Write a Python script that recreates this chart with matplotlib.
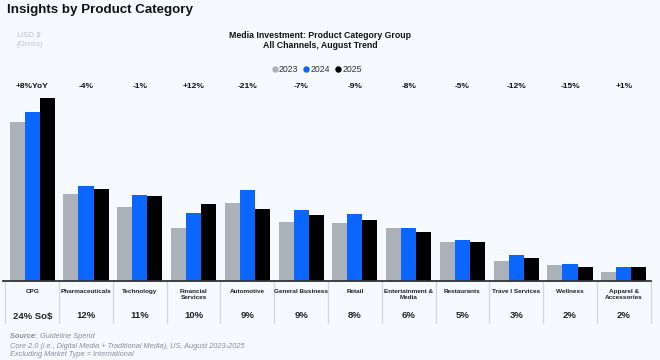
import matplotlib
matplotlib.use("Agg")
import matplotlib.pyplot as plt
from matplotlib.lines import Line2D
import numpy as np

plt.rcParams['font.family'] = ['Liberation Sans', 'DejaVu Sans']

categories = ["CPG", "Pharmaceuticals", "Technology", "Financial\nServices", "Automotive",
              "General Business", "Retail", "Entertainment &\nMedia", "Restaurants",
              "Trave l Services", "Wellness", "Apparel &\nAccessories"]
yoy_labels = ["+8%YoY", "-4%", "-1%", "+12%", "-21%", "-7%", "-9%", "-8%", "-5%", "-12%", "-15%", "+1%"]
share_labels = ["24% So$", "12%", "11%", "10%", "9%", "9%", "8%", "6%", "5%", "3%", "2%", "2%"]
years = ["2023", "2024", "2025"]
values_2023 = [159, 87, 74, 53, 78, 59, 58, 53, 39, 20, 16, 9]
values_2024 = [169, 95, 86, 68, 91, 71, 67, 53, 41, 26, 17, 14]
values_2025 = [183, 92, 85, 77, 72, 66, 61, 49, 39, 23, 14, 14]

colors = ["#aab1b9", "#0a66ff", "#000000"]
bg = "#f6f9fd"

W, H = 660, 360
fig = plt.figure(figsize=(6.6, 3.6), dpi=100, facecolor=bg)

left_px, right_px = 5.3, 650.7
base_px, top_px = 281, 75
ax = fig.add_axes([left_px / W, (H - base_px) / H, (right_px - left_px) / W, (base_px - top_px) / H])
ax.set_facecolor(bg)
n = len(categories)
ax.set_xlim(-0.5, n - 0.5)
ax.set_ylim(0, base_px - top_px)
ax.axis('off')

x = np.arange(n)
bw = 0.28
for i, (vals, c) in enumerate(zip([values_2023, values_2024, values_2025], colors)):
    ax.bar(x + (i - 1) * bw, vals, width=bw, color=c, edgecolor='none', zorder=2)

# baseline
ax.plot([-0.55, n - 0.5], [0, 0], color="#333333", lw=1.3, clip_on=False, zorder=3)
# separators
for b in np.arange(-0.5, n, 1.0):
    ax.plot([b, b], [0, -(323 - base_px)], color="#d3d7dc", lw=0.9, clip_on=False, zorder=1)

for i in range(n):
    ax.text(x[i], base_px - 87, yoy_labels[i], ha='center', va='center', fontsize=6.0,
            fontweight='bold', color="#111111", clip_on=False)
    ax.text(x[i], -(289 - base_px), categories[i], ha='center', va='top', fontsize=4.6,
            fontweight='bold', color="#222222", linespacing=1.25, clip_on=False)
    ax.text(x[i], -(316 - base_px), share_labels[i], ha='center', va='center', fontsize=6.8,
            fontweight='bold', color="#222222", clip_on=False)

# Title
fig.text(7 / W, 1 - 10 / H, "Insights by Product Category", ha='left', va='center',
         fontsize=9.6, fontweight='bold', color="#111111")
fig.text(320 / W, 1 - 35 / H, "Media Investment: Product Category Group", ha='center', va='center',
         fontsize=6.3, fontweight='bold', color="#111111")
fig.text(320 / W, 1 - 45 / H, "All Channels, August Trend", ha='center', va='center',
         fontsize=6.3, fontweight='bold', color="#111111")
fig.text(17 / W, 1 - 35 / H, "USD $", ha='left', va='center', fontsize=5.8,
         style='italic', color="#bcc0c6")
fig.text(17 / W, 1 - 44 / H, "(Gross)", ha='left', va='center', fontsize=5.8,
         style='italic', color="#bcc0c6")

handles = [Line2D([0], [0], marker='o', linestyle='none', markersize=3.6,
                  markerfacecolor=c, markeredgecolor=c) for c in colors]
leg = fig.legend(handles, years, loc='center', bbox_to_anchor=(316 / W, 1 - 70 / H), ncol=3,
                 frameon=False, fontsize=6.3, handletextpad=0.0, columnspacing=0.4,
                 handlelength=1.0, borderpad=0)
for t in leg.get_texts():
    t.set_color("#333333")

# footer
fs = 5.3
src = fig.text(10 / W, 1 - 337 / H, "Source: ", ha='left', va='center', fontsize=fs,
               style='italic', fontweight='bold', color="#8a8f96")
fig.canvas.draw()
bb = src.get_window_extent(renderer=fig.canvas.get_renderer())
fig.text(bb.x1 / W, 1 - 337 / H, "Guideline Spend", ha='left', va='center', fontsize=fs,
         style='italic', color="#8a8f96")
fig.text(10 / W, 1 - 346 / H, "Core 2.0 (i.e., Digital Media + Traditional Media), US, August 2023-2025",
         ha='left', va='center', fontsize=fs, style='italic', color="#8a8f96")
fig.text(10 / W, 1 - 355 / H, "Excluding Market Type = International", ha='left', va='center',
         fontsize=fs, style='italic', color="#8a8f96")

fig.savefig("out.png", dpi=100, facecolor=bg)
